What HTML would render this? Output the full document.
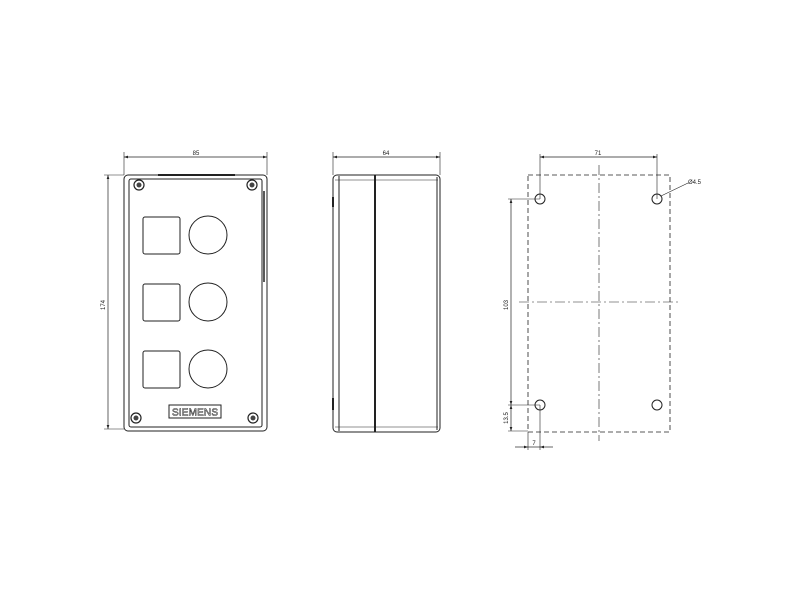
<!DOCTYPE html>
<html><head><style>body{margin:0;background:#fff}svg{display:block}</style></head><body>
<svg width="800" height="600" viewBox="0 0 800 600" xmlns="http://www.w3.org/2000/svg" font-family="Liberation Sans, sans-serif" fill="none" stroke="#222" stroke-width="1">
<defs><marker id="a" markerWidth="6" markerHeight="4" refX="6" refY="2" orient="auto-start-reverse"><path d="M0,0L6,2L0,4z" fill="#222" stroke="none"/></marker></defs>
<!-- front view -->
<line x1="124" y1="157" x2="267" y2="157" marker-start="url(#a)" marker-end="url(#a)" stroke-width="0.7"/>
<line x1="124" y1="152" x2="124" y2="175" stroke-width="0.6"/><line x1="267" y1="152" x2="267" y2="175" stroke-width="0.6"/>
<text x="196" y="155" font-size="6" fill="#222" stroke="none" text-anchor="middle">85</text>
<line x1="108" y1="175" x2="108" y2="429" marker-start="url(#a)" marker-end="url(#a)" stroke-width="0.7"/>
<line x1="104" y1="175" x2="124" y2="175" stroke-width="0.6"/><line x1="104" y1="429" x2="124" y2="429" stroke-width="0.6"/>
<text x="105" y="305" font-size="6" fill="#222" stroke="none" text-anchor="middle" transform="rotate(-90 105 305)">174</text>
<rect x="124" y="175" width="143" height="256" rx="4"/>
<rect x="129" y="179" width="133" height="248" rx="2"/>
<line x1="158" y1="175" x2="235" y2="175" stroke-width="2"/>
<line x1="264" y1="191" x2="264" y2="282" stroke-width="1.5"/>
<g stroke-width="1.2"><circle cx="139" cy="185" r="5"/><circle cx="252" cy="185" r="5"/><circle cx="136" cy="418" r="5"/><circle cx="253" cy="418" r="5"/></g>
<g fill="#444" stroke="none"><circle cx="139" cy="185" r="2.5"/><circle cx="252" cy="185" r="2.5"/><circle cx="136" cy="418" r="2.5"/><circle cx="253" cy="418" r="2.5"/></g>
<rect x="143" y="217" width="37" height="37" rx="2"/><rect x="143" y="284" width="37" height="37" rx="2"/><rect x="143" y="351" width="37" height="37" rx="2"/>
<circle cx="208" cy="235" r="19"/><circle cx="208" cy="302" r="19"/><circle cx="208" cy="369" r="19"/>
<rect x="169" y="405" width="52" height="13"/>
<text x="195" y="415.5" font-size="10" fill="none" stroke="#222" stroke-width="0.5" text-anchor="middle" textLength="46">SIEMENS</text>
<!-- side view -->
<line x1="333" y1="157" x2="440" y2="157" marker-start="url(#a)" marker-end="url(#a)" stroke-width="0.7"/>
<line x1="333" y1="152" x2="333" y2="175" stroke-width="0.6"/><line x1="440" y1="152" x2="440" y2="175" stroke-width="0.6"/>
<text x="386" y="155" font-size="6" fill="#222" stroke="none" text-anchor="middle">64</text>
<rect x="333" y="175" width="107" height="257" rx="4"/>
<line x1="339" y1="176" x2="339" y2="431"/><line x1="437" y1="177" x2="437" y2="430"/>
<line x1="335" y1="180" x2="438" y2="180" stroke-width="0.6"/><line x1="335" y1="427" x2="438" y2="427" stroke-width="0.6"/>
<line x1="375" y1="175" x2="375" y2="432" stroke-width="2"/>
<line x1="333" y1="197" x2="333" y2="207" stroke-width="2"/><line x1="333" y1="398" x2="333" y2="410" stroke-width="2"/>
<!-- mounting view -->
<rect x="528" y="175" width="142" height="257" stroke-dasharray="5,3" stroke-width="0.8"/>
<line x1="599" y1="165" x2="599" y2="441" stroke-dasharray="10,3,2,3" stroke-width="0.6"/>
<line x1="519" y1="302" x2="678" y2="302" stroke-dasharray="10,3,2,3" stroke-width="0.6"/>
<circle cx="540" cy="199" r="5"/><circle cx="657" cy="199" r="5"/><circle cx="540" cy="405" r="5"/><circle cx="657" cy="405" r="5"/>
<line x1="540" y1="157" x2="657" y2="157" marker-start="url(#a)" marker-end="url(#a)" stroke-width="0.7"/>
<line x1="540" y1="154" x2="540" y2="199" stroke-width="0.6"/><line x1="657" y1="154" x2="657" y2="199" stroke-width="0.6"/>
<text x="598" y="155" font-size="6" fill="#222" stroke="none" text-anchor="middle">71</text>
<line x1="661" y1="196" x2="688" y2="183" stroke-width="0.6"/>
<text x="688" y="184" font-size="6" fill="#222" stroke="none">Ø4.5</text>
<line x1="511" y1="199" x2="511" y2="405" marker-start="url(#a)" marker-end="url(#a)" stroke-width="0.7"/>
<line x1="511" y1="405" x2="511" y2="431" marker-start="url(#a)" marker-end="url(#a)" stroke-width="0.7"/>
<line x1="508" y1="199" x2="540" y2="199" stroke-width="0.6"/><line x1="508" y1="405" x2="540" y2="405" stroke-width="0.6"/><line x1="508" y1="431" x2="528" y2="431" stroke-width="0.6"/>
<text x="508" y="305" font-size="6" fill="#222" stroke="none" text-anchor="middle" transform="rotate(-90 508 305)">103</text>
<text x="508" y="418" font-size="6" fill="#222" stroke="none" text-anchor="middle" transform="rotate(-90 508 418)">13.5</text>
<line x1="528" y1="432" x2="528" y2="450" stroke-width="0.6"/><line x1="540" y1="405" x2="540" y2="450" stroke-width="0.6"/>
<line x1="515" y1="447" x2="528" y2="447" marker-end="url(#a)" stroke-width="0.7"/><line x1="553" y1="447" x2="540" y2="447" marker-end="url(#a)" stroke-width="0.7"/>
<line x1="528" y1="447" x2="540" y2="447" stroke-width="0.7"/>
<text x="534" y="445" font-size="6" fill="#222" stroke="none" text-anchor="middle">7</text>
</svg>
</body></html>
